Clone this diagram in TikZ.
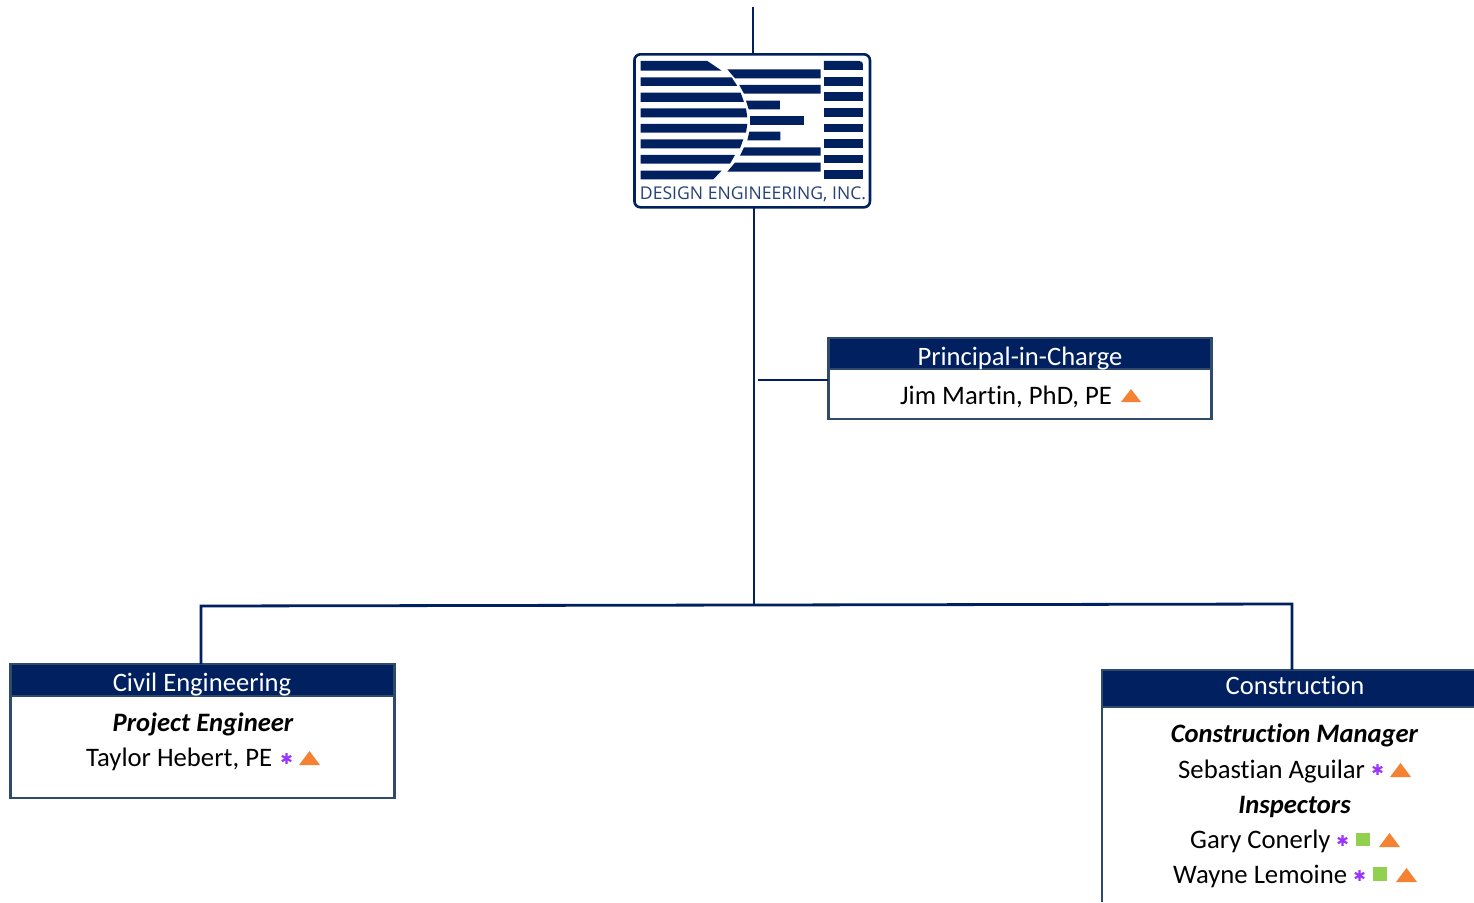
\documentclass[tikz,border=0pt]{standalone}
\usepackage{fontspec}
\setmainfont{Carlito}[Ligatures={NoCommon}]
\newfontfamily\logofont{Open Sans}
\newfontfamily\symfont{DejaVu Sans}
\usetikzlibrary{calc}
\definecolor{navy}{HTML}{002060}
\definecolor{boxedge}{HTML}{2F4B6B}
\definecolor{triorange}{HTML}{F58233}
\definecolor{sqgreen}{HTML}{92D050}
\definecolor{astpurple}{HTML}{9933FF}
\tikzset{
  x=1pt,y=-1pt,
  conn/.style={draw=navy,line width=2.8pt},
  boxnode/.style={draw=boxedge,line width=2.6pt,fill=white,inner sep=0pt,outer sep=0pt},
  headnode/.style={draw=boxedge,line width=2.6pt,fill=navy,inner sep=0pt,outer sep=0pt},
  ht/.style={font=\fontsize{26.6}{26.6}\selectfont,text=white,anchor=base,inner sep=0pt},
  nm/.style={font=\fontsize{26.7}{26.7}\selectfont,text=black,anchor=base west,inner sep=0pt},
  rl/.style={font=\fontsize{26.6}{26.6}\selectfont\bfseries\itshape,text=black,anchor=base,inner sep=0pt},
  astn/.style={font=\symfont\fontsize{15}{15}\selectfont,text=astpurple,inner sep=0pt},
  logobar/.style={fill=navy,draw=none},
}
\newcommand{\tri}[4]{\fill[fill=triorange] (#1,#4) -- (#2,#4) -- ({(#1+#2)/2},#3) -- cycle;}
\newcommand{\sqr}[4]{\fill[fill=sqgreen] (#1,#3) rectangle (#2,#4);}
\newcommand{\lb}[5]{\fill[logobar] (#1,#3) -- (#2,#3) -- (#4,#5) -- (#1,#5) -- cycle;}
\begin{document}
\begin{tikzpicture}
\useasboundingbox (0,0) rectangle (1474,902);
% logo frame
\node[draw=navy,line width=2.6pt,rounded corners=6pt,fill=white,minimum width=235.5pt,minimum height=153pt,inner sep=0pt,outer sep=0pt] (logo) at (752.2,130.8) {};
\begin{scope}[shift={(620,40)},x=0.3333pt,y=-0.3333pt]
  \lb{62}{262}{63}{305}{92}
  \lb{62}{335}{112}{352}{138}
  \lb{62}{362}{158}{372}{186}
  \lb{62}{378}{205}{382}{232}
  \lb{62}{382}{252}{378}{278}
  \lb{62}{370}{298}{360}{325}
  \lb{62}{345}{345}{330}{371}
  \lb{62}{305}{392}{280}{418}
  \fill[logobar] (322,88) -- (602,88) -- (602,115) -- (345,115) -- cycle;
  \fill[logobar] (358,135) -- (602,135) -- (602,161) -- (372,161) -- cycle;
  \fill[logobar] (378,182) -- (480,182) -- (480,208) -- (386,208) -- cycle;
  \fill[logobar] (390,228) rectangle (553,254);
  \fill[logobar] (388,275) -- (481,275) -- (481,301) -- (382,301) -- cycle;
  \fill[logobar] (372,322) -- (602,322) -- (602,347) -- (360,347) -- cycle;
  \fill[logobar] (345,368) -- (602,368) -- (602,395) -- (322,395) -- cycle;
  \fill[logobar] (612,63) -- (718,63) .. controls (726,63) and (729,68) .. (729,74) -- (729,90) -- (612,90) -- cycle;
  \fill[logobar] (612,111) rectangle (729,137);
  \fill[logobar] (612,157) rectangle (729,183);
  \fill[logobar] (612,204) rectangle (729,230);
  \fill[logobar] (612,251) rectangle (729,277);
  \fill[logobar] (612,297) rectangle (729,323);
  \fill[logobar] (612,344) rectangle (729,370);
  \fill[logobar] (612,390) rectangle (729,416);
\end{scope}
\node[font=\logofont\fontsize{17.6}{17.6}\selectfont,text=navy!85,anchor=base,inner sep=0pt] (logotext) at (753,199.5) {DESIGN ENGINEERING, INC.};
% boxes
\node[boxnode,minimum width=383.5pt,minimum height=81pt] (principal) at (1020,378.5) {};
\node[headnode,minimum width=383.5pt,minimum height=31pt,anchor=north] (principalhead) at (principal.north) {};
\node[boxnode,minimum width=384.5pt,minimum height=134pt] (civil) at (202.5,731) {};
\node[headnode,minimum width=384.5pt,minimum height=32pt,anchor=north] (civilhead) at (civil.north) {};
\node[headnode,minimum width=375pt,minimum height=37pt,anchor=north west] (conshead) at (1102,670) {};
\coordinate (consbottom) at (1102,902);
\draw[draw=boxedge,line width=2.6pt] (conshead.south west) -- (consbottom);
% connectors
\coordinate (top) at (753,7);
\coordinate (tr) at (754,605);
\coordinate (bL) at (201,606);
\coordinate (bR) at (1292,604);
\coordinate (stub) at (758,380);
\draw[conn] (top) -- (top |- logo.north);
\draw[conn] (tr |- logo.south) -- (tr);
\draw[conn] (stub) -- (stub -| principal.west);
\draw[conn] (bR |- conshead.north) -- (bR) -- (tr) -- (bL) -- (bL |- civil.north);
% header text
\node[ht] (t1) at (1020,365) {Principal-in-Charge};
\node[ht] (t2) at (202,691) {Civil Engineering};
\node[ht] (t3) at (1295,694) {Construction};
% contents
\node[nm] (jim) at (900,404) {Jim Martin, PhD, PE};
\tri{1121}{1141}{389}{402}
\node[rl] (pe) at (203,731) {Project Engineer};
\node[nm] (taylor) at (86,766) {Taylor Hebert, PE};
\node[astn] (a1) at (286.7,759) {✱};
\tri{299}{320}{751}{765}
\node[rl] (cm) at (1294.5,742) {Construction Manager};
\node[nm] (seb) at (1178,778) {Sebastian Aguilar};
\node[astn] (a2) at (1377.7,770.5) {✱};
\tri{1390}{1411}{763}{777}
\node[rl] (ins) at (1294.5,813) {Inspectors};
\node[nm] (gary) at (1190,848) {Gary Conerly};
\node[astn] (a3) at (1342.7,841) {✱};
\sqr{1356}{1370}{833}{846}
\tri{1379}{1400}{833}{847}
\node[nm] (wayne) at (1173,883) {Wayne Lemoine};
\node[astn] (a4) at (1359.7,876) {✱};
\sqr{1373}{1387}{867}{881}
\tri{1396}{1417}{868}{882}
\end{tikzpicture}
\end{document}
